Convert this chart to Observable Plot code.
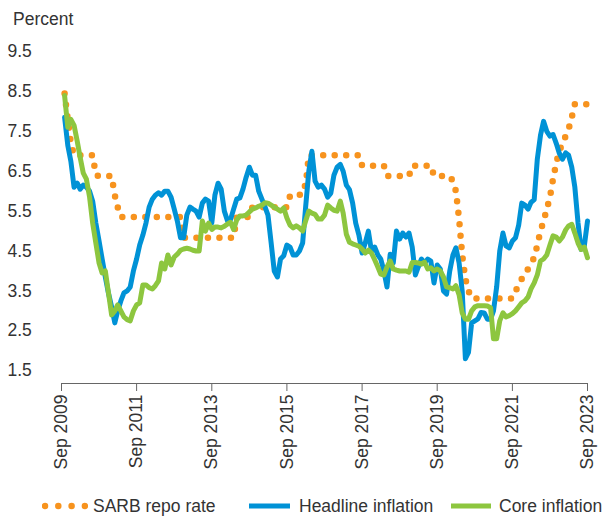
<!DOCTYPE html>
<html><head><meta charset="utf-8">
<script src="https://cdn.jsdelivr.net/npm/d3@7"></script>
<script src="https://cdn.jsdelivr.net/npm/@observablehq/plot@0.6"></script>
<style>
body{margin:0;background:#fff;}
#wrap{position:relative;width:608px;height:519px;font-family:"Liberation Sans",Arial,sans-serif;color:#333;}
#title{position:absolute;left:13px;top:9px;font-size:17.5px;line-height:20px;}
#legend{position:absolute;left:0;top:494px;width:608px;height:24px;}
.item{position:absolute;top:0;height:24px;font-size:17.5px;line-height:24px;white-space:nowrap;}
.item svg{position:absolute;top:0;left:0;}
</style>
</head><body>
<div id="wrap"><div id="chart"></div><div id="title">Percent</div><div id="legend"></div></div>
<script>
// Monthly series, Oct 2009 .. Sep 2023
const seriesNames = ["SARB repo rate", "Headline inflation", "Core inflation"];
const repoRate = [
8.45,7.8,7.2,6.9,6.9,6.9,6.9,6.9,6.9,6.9,6.4,6.38,6.38,6.38,6.38,6.38,5.9,5.6,
5.35,5.35,5.35,5.35,5.35,5.35,5.35,5.35,5.35,5.35,5.35,5.35,5.35,5.35,5.35,5.35,5.35,5.35,5.35,5.35,
4.83,4.83,4.83,4.83,4.83,4.83,4.83,4.83,4.83,4.83,4.83,4.83,4.83,4.83,4.83,4.83,4.83,
5.35,5.35,5.35,5.35,5.35,
5.6,5.6,5.6,5.6,5.6,5.6,5.6,5.6,5.6,5.6,5.6,5.6,
5.88,5.88,5.88,5.88,6.13,6.13,
6.9,6.9,6.9,6.9,6.9,6.9,6.9,6.9,6.9,6.9,6.9,6.9,6.9,6.9,6.9,6.9,6.9,
6.64,6.64,6.64,6.64,6.64,6.64,6.64,6.64,
6.38,6.38,6.38,6.38,6.38,6.38,6.38,6.38,
6.64,6.64,6.64,6.64,6.64,6.64,6.64,
6.38,6.38,6.38,6.38,6.38,6.38,
6.25,6.0,5.3,4.4,3.8,3.5,
3.31,3.31,3.31,3.31,3.31,3.31,3.31,3.31,3.31,3.31,3.31,3.31,3.31,3.31,
3.5,3.62,3.8,3.9,4.06,4.2,4.33,4.65,5.0,5.25,5.55,5.85,6.3,6.7,7.0,7.2,7.38,7.55,7.85,
8.18,8.18,8.18,8.18,8.18
];
const headline = [
7.85,7.15,6.75,6.1,6.2,6.05,6.15,6.1,6.0,5.75,5.2,4.75,4.3,3.85,3.45,3.1,2.7,3.0,3.25,3.45,
3.5,3.6,4.0,4.3,4.65,4.9,5.2,5.6,5.8,5.9,5.96,5.9,6.0,6.0,5.85,5.55,5.25,4.83,4.83,5.4,
5.6,5.55,5.5,5.35,5.7,5.8,5.75,5.2,5.9,6.2,6.05,5.5,5.25,5.28,5.55,5.8,5.83,6.05,6.35,6.6,
6.4,6.4,6.0,5.8,5.6,5.4,4.7,4.0,3.85,4.3,4.38,4.65,4.6,4.4,4.4,4.5,4.7,5.6,6.5,7.0,
6.25,6.1,6.15,6.05,5.85,5.95,6.4,6.6,6.67,6.5,6.15,6.04,5.7,5.2,4.9,4.45,4.7,5.0,4.5,4.6,
4.4,4.3,4.0,3.6,4.42,4.2,5.0,4.8,4.95,4.85,4.95,4.6,3.9,4.1,4.3,4.2,4.3,4.25,3.7,4.15,
4.05,3.5,3.42,4.0,4.4,4.58,4.2,3.5,1.8,1.96,2.7,2.75,2.8,2.96,2.95,2.79,2.79,3.0,3.6,4.5,
4.95,4.63,4.58,4.75,4.83,5.15,5.7,5.65,5.55,5.72,5.79,6.8,7.4,7.75,7.5,7.38,7.42,7.2,6.95,6.8,
6.96,6.9,6.6,6.1,5.2,4.54,4.63,5.25
];
const core = [
8.4,7.6,7.8,7.65,7.25,6.85,6.45,6.3,5.85,5.2,4.7,4.2,3.95,4.0,3.46,2.9,3.0,3.15,3.0,2.85,
2.78,2.75,3.0,3.15,3.2,3.65,3.65,3.58,3.55,3.63,3.75,4.2,4.05,4.4,4.15,4.35,4.42,4.52,4.55,4.57,
4.55,4.52,4.5,4.5,5.25,5.0,5.2,5.04,5.1,5.1,5.08,5.12,5.18,5.22,5.04,5.28,5.38,5.38,5.4,5.48,
5.55,5.58,5.62,5.65,5.71,5.7,5.65,5.6,5.55,5.5,5.58,5.33,5.15,5.08,5.13,5.08,5.0,5.25,5.5,5.45,
5.42,5.3,5.3,5.4,5.65,5.58,5.52,5.5,5.75,5.45,4.92,4.72,4.68,4.65,4.62,4.55,4.45,4.52,4.45,4.28,
4.1,3.92,3.9,4.1,4.25,4.05,4.02,4.0,4.0,4.0,3.97,4.21,4.21,4.2,4.17,4.22,4.05,4.08,4.0,4.05,
4.0,3.85,3.6,3.58,3.55,3.63,3.4,2.95,2.79,2.79,3.0,3.1,3.13,3.13,3.13,3.12,3.08,2.3,2.3,2.75,
2.95,2.85,2.88,2.93,3.0,3.1,3.2,3.25,3.35,3.55,3.7,3.9,4.25,4.3,4.4,4.65,4.88,4.85,4.75,4.85,
5.03,5.13,5.17,4.95,4.7,4.54,4.6,4.33
];
const xTickLabels = ["Sep 2009","Sep 2011","Sep 2013","Sep 2015","Sep 2017","Sep 2019","Sep 2021","Sep 2023"];
const yTicks = [1.5,2.5,3.5,4.5,5.5,6.5,7.5,8.5,9.5];
const yDomain = [1.18, 9.5];
const colors = ["#F7931E", "#0092D6", "#8DC63F"];

const parse = d3.utcParse("%b %Y");
const xTickDates = xTickLabels.map(parse);
const dates = headline.map((_, i) => new Date(Date.UTC(2009, 9 + i, 1)));
const font = '"Liberation Sans", Arial, sans-serif';

const chart = Plot.plot({
  width: 608, height: 519,
  marginLeft: 61, marginRight: 21, marginTop: 51, marginBottom: 136,
  style: {fontFamily: font, fontSize: "17.5px", color: "#333", background: "white"},
  x: {type: "utc", domain: [xTickDates[0], xTickDates[xTickDates.length - 1]]},
  y: {domain: yDomain},
  marks: [
    Plot.axisY(yTicks, {tickSize: 0, textAnchor: "start", dx: -45, fontSize: 17.5, tickFormat: d => d.toFixed(1), label: null}),
    Plot.axisX(xTickDates, {tickSize: 8, tickPadding: 3, tickRotate: -90, stroke: "#666", fontSize: 17.5, tickFormat: d3.utcFormat("%b %Y"), label: null}),
    Plot.ruleY([yDomain[0]], {stroke: "#666", strokeWidth: 1.2}),
    Plot.lineY(repoRate, {x: dates, stroke: colors[0], strokeWidth: 6.5, strokeDasharray: "0 11.5", strokeLinecap: "round"}),
    Plot.lineY(headline, {x: dates, stroke: colors[1], strokeWidth: 5, strokeLinejoin: "round"}),
    Plot.lineY(core, {x: dates, stroke: colors[2], strokeWidth: 5, strokeLinejoin: "round"})
  ]
});
document.getElementById("chart").appendChild(chart);

// Legend
const legend = document.getElementById("legend");
const items = [
  {left: 42, swatchW: 46, textLeft: 93, dotted: true},
  {left: 249, swatchW: 41, textLeft: 299, dotted: false},
  {left: 451, swatchW: 40, textLeft: 499, dotted: false}
];
items.forEach((it, i) => {
  const sw = document.createElement("div");
  sw.className = "item";
  sw.style.left = it.left + "px";
  sw.style.width = it.swatchW + "px";
  const line = it.dotted
    ? `<line x1="3" y1="12" x2="${it.swatchW - 3}" y2="12" stroke="${colors[i]}" stroke-width="6.5" stroke-linecap="round" stroke-dasharray="0 13.3"/>`
    : `<line x1="0" y1="12" x2="${it.swatchW}" y2="12" stroke="${colors[i]}" stroke-width="5"/>`;
  sw.innerHTML = `<svg width="${it.swatchW}" height="24">${line}</svg>`;
  legend.appendChild(sw);
  const tx = document.createElement("div");
  tx.className = "item";
  tx.style.left = it.textLeft + "px";
  tx.textContent = seriesNames[i];
  legend.appendChild(tx);
});
</script>
</body></html>
